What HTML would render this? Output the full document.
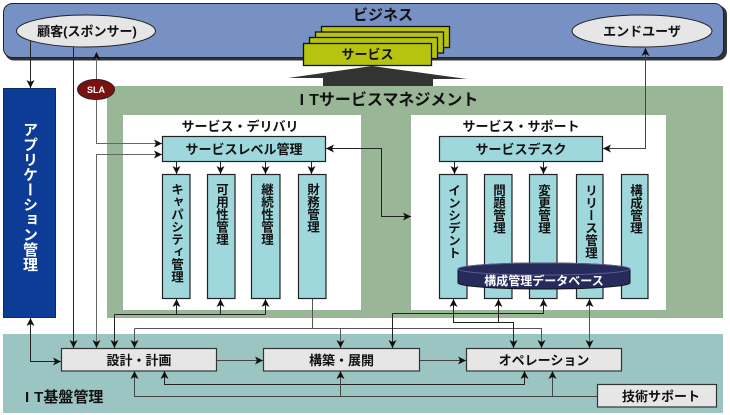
<!DOCTYPE html>
<html><head><meta charset="utf-8">
<style>
html,body{margin:0;padding:0;background:#fff}
#w{position:relative;width:730px;height:415px;overflow:hidden;font-family:"Liberation Sans","Noto Sans CJK JP",sans-serif;font-weight:bold;color:#111}
svg{position:absolute;left:0;top:0}
.t{position:absolute;display:flex;align-items:center;justify-content:center;white-space:nowrap;line-height:1}
.v{position:absolute;writing-mode:vertical-rl;font-size:12.5px;white-space:nowrap;text-align:start}
</style></head><body><div id="w">
<svg width="730" height="415" viewBox="0 0 730 415">
<defs>
<marker id="a" markerWidth="9" markerHeight="9" refX="8" refY="4" orient="auto-start-reverse" markerUnits="userSpaceOnUse"><path d="M0,0 L8,4 L0,8 L2,4 z" fill="#111"/></marker>
</defs>
<!-- business bar -->
<rect x="5" y="5.5" width="722" height="55" rx="9" fill="#333"/>
<rect x="3.5" y="3.5" width="720" height="54" rx="9" fill="#7891c4" stroke="#222" stroke-width="1"/>
<ellipse cx="86" cy="31" rx="69.5" ry="16" fill="#e6e6e6" stroke="#222"/>
<ellipse cx="642" cy="31" rx="70" ry="16" fill="#e6e6e6" stroke="#222"/>
<!-- service stack -->
<rect x="321.5" y="26.5" width="128" height="21" fill="#b6c410" stroke="#111" stroke-width="1.3"/>
<rect x="315.5" y="32" width="128" height="21" fill="#b6c410" stroke="#111" stroke-width="1.3"/>
<rect x="309.5" y="37.5" width="128" height="21" fill="#b6c410" stroke="#111" stroke-width="1.3"/>
<rect x="303.5" y="43.5" width="128" height="22" fill="#b6c410" stroke="#111" stroke-width="1.3"/>
<!-- big arrow -->
<polygon points="288,78 372,66 467,79 433,79 433,87 323,87 323,78" fill="#333"/>
<!-- regions -->
<rect x="107" y="86" width="616" height="232" fill="#99b697"/>
<rect x="3.5" y="88.5" width="52" height="229" fill="#0c3c96" stroke="#0a2a6a"/>
<rect x="3" y="334" width="720" height="79" fill="#9bc5c3"/>
<rect x="123" y="115" width="238" height="195" fill="#fff"/>
<rect x="411" y="115" width="255" height="195" fill="#fff"/>
<!-- cyan boxes -->
<g fill="#9ed8dc" stroke="#222" stroke-width="1.2">
<rect x="162.5" y="136.5" width="163" height="25"/>
<rect x="162.5" y="174.5" width="27.5" height="124"/>
<rect x="207.5" y="174.5" width="27.5" height="124"/>
<rect x="251.5" y="174.5" width="28.5" height="124"/>
<rect x="298.5" y="174.5" width="27.5" height="124"/>
<rect x="439.5" y="136.5" width="163" height="25"/>
<rect x="439.5" y="174.5" width="27.5" height="124"/>
<rect x="484.5" y="174.5" width="27.5" height="124"/>
<rect x="529.5" y="174.5" width="27.5" height="124"/>
<rect x="576.5" y="174.5" width="26.5" height="124"/>
<rect x="621.5" y="174.5" width="26.5" height="124"/>
</g>
<!-- database cylinder -->
<path d="M458,269 A86,6 0 0 1 630,269 V283 A86,6 0 0 1 458,283 Z" fill="#272b5c" stroke="#111" stroke-width="1"/>
<ellipse cx="544" cy="269" rx="86" ry="6" fill="none" stroke="#5a5f8c" stroke-width="1"/>
<!-- gray boxes -->
<g fill="#e6e6e6" stroke="#333" stroke-width="1.2">
<rect x="61.5" y="348.5" width="155" height="22.5"/>
<rect x="263.5" y="348.5" width="156" height="22.5"/>
<rect x="466.5" y="348.5" width="155" height="22.5"/>
<rect x="597.5" y="384.5" width="119" height="22.5"/>
</g>
<!-- connectors -->
<g fill="none" stroke="#222" stroke-width="1">
<path d="M30.5,41 V88" marker-end="url(#a)"/>
<path d="M73.5,47 V348" marker-end="url(#a)"/>
<path d="M162,143.5 H96.5 V52" stroke="#666" marker-start="url(#a)" marker-end="url(#a)"/>
<path d="M162,154.5 H96.5 V348" stroke="#666" marker-start="url(#a)" marker-end="url(#a)"/>
<path d="M114.5,314.5 V348" marker-end="url(#a)"/>
<path d="M114.5,314.5 H265.5"/>
<path d="M176.5,314.5 V299" marker-end="url(#a)"/>
<path d="M220.5,314.5 V299" marker-end="url(#a)"/>
<path d="M265.5,314.5 V299" marker-end="url(#a)"/>
<path d="M134.5,328.5 V348" stroke="#555" marker-end="url(#a)"/>
<path d="M134.5,328.5 H541.5 V348" stroke="#555" marker-end="url(#a)"/>
<path d="M340.5,328.5 V348" stroke="#555" marker-end="url(#a)"/>
<path d="M312.5,299 V328.5" stroke="#555"/>
<path d="M392.5,313.5 V348" marker-end="url(#a)"/>
<path d="M392.5,313.5 H543.5 V299" marker-end="url(#a)"/>
<path d="M453.5,299 V322.5 H513.5 V348" marker-start="url(#a)" marker-end="url(#a)"/>
<path d="M498.5,322.5 V299" marker-end="url(#a)"/>
<path d="M589.5,299 V348" stroke="#555" marker-start="url(#a)" marker-end="url(#a)"/>
<path d="M603,148.5 H645.5 V48" stroke="#444" marker-start="url(#a)" marker-end="url(#a)"/>
<path d="M326,148.5 H381.5 V216.5 H411" marker-start="url(#a)" marker-end="url(#a)"/>
<path d="M176.5,162 V174" marker-end="url(#a)"/>
<path d="M220.5,162 V174" marker-end="url(#a)"/>
<path d="M265.5,162 V174" marker-end="url(#a)"/>
<path d="M311.5,162 V174" marker-end="url(#a)"/>
<path d="M454.5,162 V174" marker-end="url(#a)"/>
<path d="M543.5,162 V174" marker-end="url(#a)"/>
<path d="M217,360.5 H263" stroke="#444" marker-end="url(#a)"/>
<path d="M420,360.5 H466" stroke="#444" marker-end="url(#a)"/>
<path d="M164.5,371 V384.5 H524.5 V371" marker-start="url(#a)" marker-end="url(#a)"/>
<path d="M134.5,371 V396.5 H597" stroke="#444" marker-start="url(#a)"/>
<path d="M340.5,396.5 V371" stroke="#444" marker-end="url(#a)"/>
<path d="M552.5,396.5 V371" stroke="#444" marker-end="url(#a)"/>
<path d="M30.5,318 V361.5 H61" marker-start="url(#a)" marker-end="url(#a)"/>
</g>
<!-- SLA -->
<ellipse cx="96" cy="89.5" rx="18.5" ry="10" fill="#7a1010" stroke="#222" stroke-width="1"/>
</svg>

<div class="t" style="left:283px;top:5px;width:200px;height:20px;font-size:15px">ビジネス</div>
<div class="t" style="left:-13px;top:21px;width:200px;height:20px;font-size:13px">顧客(スポンサー)</div>
<div class="t" style="left:542px;top:21px;width:200px;height:20px;font-size:13px">エンドユーザ</div>
<div class="t" style="left:303px;top:44px;width:129px;height:21px;font-size:13px">サービス</div>
<div class="t" style="left:46px;top:80px;width:100px;height:20px;font-size:9px;color:#fff">SLA</div>
<div class="t" style="left:289px;top:91px;width:200px;height:20px;font-size:16px"><span style="letter-spacing:5px">I</span>Tサービスマネジメント</div>
<div class="t" style="left:140px;top:116px;width:200px;height:20px;font-size:13px">サービス・デリバリ</div>
<div class="t" style="left:421px;top:116px;width:200px;height:20px;font-size:13px">サービス・サポート</div>
<div class="t" style="left:162px;top:137px;width:164px;height:25px;font-size:13px">サービスレベル管理</div>
<div class="t" style="left:439px;top:137px;width:164px;height:25px;font-size:13px">サービスデスク</div>

<div class="v" style="left:162px;top:183px;width:28px;line-height:28px">キャパシティ管理</div>
<div class="v" style="left:207px;top:183px;width:28px;line-height:28px">可用性管理</div>
<div class="v" style="left:251px;top:183px;width:29px;line-height:29px">継続性管理</div>
<div class="v" style="left:298px;top:183px;width:28px;line-height:28px">財務管理</div>
<div class="v" style="left:439px;top:184px;width:28px;line-height:28px">インシデント</div>
<div class="v" style="left:484px;top:184px;width:28px;line-height:28px">問題管理</div>
<div class="v" style="left:529px;top:184px;width:28px;line-height:28px">変更管理</div>
<div class="v" style="left:576px;top:184px;width:27px;line-height:27px">リリース管理</div>
<div class="v" style="left:621px;top:184px;width:27px;line-height:27px">構成管理</div>
<div class="v" style="left:3px;top:122px;width:53px;line-height:53px;font-size:15px;color:#fff">アプリケーション管理</div>

<div class="t" style="left:444px;top:271px;width:200px;height:20px;font-size:12px;color:#fff">構成管理データベース</div>

<div class="t" style="left:61px;top:349px;width:156px;height:22px;font-size:13px">設計・計画</div>
<div class="t" style="left:263px;top:349px;width:157px;height:22px;font-size:13px">構築・展開</div>
<div class="t" style="left:466px;top:349px;width:156px;height:22px;font-size:13px">オペレーション</div>
<div class="t" style="left:603px;top:385px;width:116px;height:22px;font-size:13px">技術サポート</div>
<div class="t" style="left:25px;top:387px;height:20px;font-size:15px;justify-content:flex-start"><span style="letter-spacing:5px">I</span>T基盤管理</div>
</div></body></html>
